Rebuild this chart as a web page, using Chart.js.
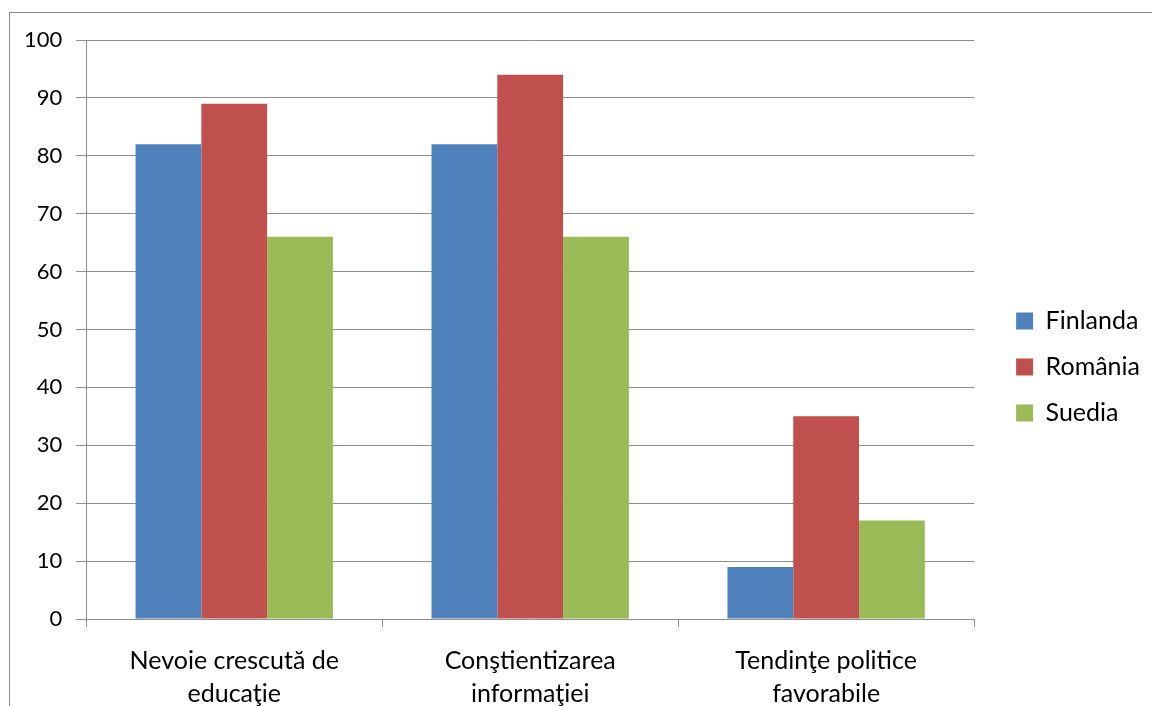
<!DOCTYPE html>
<html>
<head>
<meta charset="utf-8">
<script src="https://cdn.jsdelivr.net/npm/chart.js@4"></script>
<style>
  html, body { margin: 0; padding: 0; background: #fff; }
  #wrap { position: relative; width: 1152px; height: 706px; overflow: hidden; }
  #frame { position: absolute; left: 9px; top: 12px; width: 1300px; height: 800px; border: 1px solid #8a8a8a; }
  #chart { position: absolute; left: 0; top: 0; }
</style>
</head>
<body>
<div id="wrap">
  <div id="frame"></div>
  <canvas id="chart" width="1152" height="728"></canvas>
</div>
<script>
const categories = [
  ['Nevoie crescută de', 'educaţie'],
  ['Conştientizarea', 'informaţiei'],
  ['Tendinţe politice', 'favorabile']
];
const finlanda = [82, 82, 9];
const romania = [89, 94, 35];
const suedia = [66, 66, 17];

const fontFamily = 'Lato, "Open Sans", sans-serif';
const gridColor = '#8e8e8e';

// nudge the legend block a bit right and up, like the Excel original
const legendNudge = {
  id: 'legendNudge',
  afterLayout(chart) {
    const lg = chart.legend;
    lg.left += 21;
    lg.right += 21;
    lg.top -= 17;
    lg.bottom -= 17;
  },
};

const ctx = document.getElementById('chart').getContext('2d');
new Chart(ctx, {
  type: 'bar',
  data: {
    labels: categories,
    datasets: [
      { label: 'Finlanda', data: finlanda, backgroundColor: '#4f81bd' },
      { label: 'România', data: romania, backgroundColor: '#c0504d' },
      { label: 'Suedia', data: suedia, backgroundColor: '#9bbb59' },
    ],
  },
  options: {
    responsive: false,
    animation: false,
    layout: {
      padding: { top: 40, left: 10, right: 23, bottom: 0 },
    },
    datasets: {
      bar: {
        categoryPercentage: 0.667,
        barPercentage: 1.0,
        borderWidth: 0,
      },
    },
    scales: {
      x: {
        grid: {
          drawOnChartArea: false,
          offset: true,
          tickLength: 8,
          color: gridColor,
        },
        border: { display: false },
        ticks: {
          color: '#000',
          padding: 18,
          font: { family: fontFamily, size: 25, lineHeight: 1.3 },
        },
      },
      y: {
        min: 0,
        max: 100,
        grid: {
          color: gridColor,
          tickLength: 10,
        },
        border: { color: gridColor },
        ticks: {
          stepSize: 10,
          color: '#000',
          padding: 14,
          font: { family: fontFamily, size: 22 },
        },
      },
    },
    plugins: {
      legend: {
        position: 'right',
        labels: {
          color: '#000',
          boxWidth: 17,
          boxHeight: 17,
          padding: 21,
          font: { family: fontFamily, size: 25 },
        },
      },
      tooltip: { enabled: false },
    },
  },
  plugins: [legendNudge],
});
</script>
</body>
</html>
